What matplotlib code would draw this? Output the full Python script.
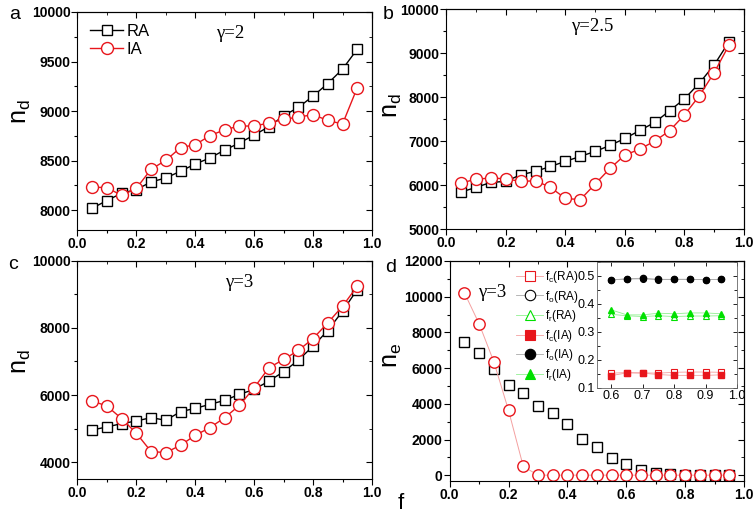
import numpy as np
import matplotlib
matplotlib.use('Agg')
import matplotlib.pyplot as plt
from matplotlib.ticker import MultipleLocator

plt.rcParams['font.family'] = ['Liberation Sans', 'DejaVu Sans']
plt.rcParams['font.weight'] = 'bold'
plt.rcParams['mathtext.fontset'] = 'custom'
plt.rcParams['mathtext.rm'] = 'Liberation Sans'

# datos
f = [0.05, 0.10, 0.15, 0.20, 0.25, 0.30, 0.35, 0.40, 0.45, 0.50,
     0.55, 0.60, 0.65, 0.70, 0.75, 0.80, 0.85, 0.90, 0.95]

a_ra = [8020, 8097, 8171, 8208, 8285, 8325, 8393, 8466, 8527, 8607,
        8678, 8758, 8842, 8953, 9037, 9151, 9278, 9423, 9624]
a_ia = [8232, 8228, 8148, 8221, 8413, 8503, 8631, 8661, 8752, 8812,
        8849, 8849, 8879, 8916, 8940, 8963, 8906, 8869, 9235]

b_ra = [5841, 5947, 6061, 6083, 6235, 6311, 6424, 6538, 6652, 6765,
        6902, 7061, 7242, 7424, 7689, 7962, 8318, 8735, 9265]
b_ia = [6045, 6136, 6159, 6144, 6083, 6098, 5947, 5697, 5667, 6023,
        6379, 6682, 6818, 7000, 7235, 7598, 8030, 8560, 9189]

c_ra = [4960, 5050, 5149, 5228, 5327, 5248, 5505, 5604, 5723, 5842,
        6020, 6168, 6416, 6693, 7040, 7455, 7921, 8495, 9139]
c_ia = [5822, 5673, 5297, 4861, 4317, 4287, 4505, 4802, 5030, 5327,
        5693, 6218, 6812, 7059, 7327, 7683, 8149, 8644, 9238]

d_ra = [7463, 6828, 5933, 5075, 4627, 3881, 3470, 2854, 2052, 1586,
        989, 616, 280, 150, 56, 20, 20, 20, 20]
d_ia = [10224, 8489, 6362, 3638, 504, 10, 10, 10, 10, 10,
        10, 10, 10, 10, 10, 10, 10, 10, 10]

# inset
f_in = [0.60, 0.65, 0.70, 0.75, 0.80, 0.85, 0.90, 0.95]
fc_ra = [0.153, 0.155, 0.154, 0.153, 0.156, 0.157, 0.157, 0.156]
fo_ra = [0.486, 0.489, 0.490, 0.487, 0.488, 0.488, 0.487, 0.488]
fr_ra = [0.363, 0.358, 0.355, 0.358, 0.355, 0.357, 0.357, 0.358]
fc_ia = [0.144, 0.154, 0.153, 0.148, 0.145, 0.145, 0.145, 0.147]
fo_ia = [0.486, 0.490, 0.492, 0.488, 0.488, 0.488, 0.487, 0.488]
fr_ia = [0.379, 0.361, 0.361, 0.367, 0.365, 0.368, 0.368, 0.365]

RED = '#e8161c'
GREEN = '#00e000'

fig = plt.figure(figsize=(7.56, 5.16), dpi=100)

def estilo(ax, ylim, ymaj, ymin):
    ax.set_xlim(0, 1.0)
    ax.set_ylim(*ylim)
    ax.xaxis.set_major_locator(MultipleLocator(0.2))
    ax.xaxis.set_minor_locator(MultipleLocator(0.1))
    ax.yaxis.set_major_locator(MultipleLocator(ymaj))
    ax.yaxis.set_minor_locator(MultipleLocator(ymin))
    ax.tick_params(which='both', direction='out', width=0.8, labelsize=10)
    ax.tick_params(which='major', length=4, pad=1)
    ax.tick_params(which='minor', length=2.5)
    # ticks hacia dentro arriba y a la derecha
    top = ax.secondary_xaxis('top')
    top.xaxis.set_major_locator(MultipleLocator(0.2))
    top.xaxis.set_minor_locator(MultipleLocator(0.1))
    top.tick_params(which='both', direction='in', labeltop=False)
    top.tick_params(which='major', length=4)
    top.tick_params(which='minor', length=2.5)
    right = ax.secondary_yaxis('right')
    right.yaxis.set_major_locator(MultipleLocator(ymaj))
    right.yaxis.set_minor_locator(MultipleLocator(ymin))
    right.tick_params(which='both', direction='in', labelright=False)
    right.tick_params(which='major', length=4)
    right.tick_params(which='minor', length=2.5)
    for s in ax.spines.values():
        s.set_linewidth(0.8)

def curvas(ax, ra, ia):
    ax.plot(f, ra, '-s', color='black', lw=1.0, ms=7.5, mfc='white',
            mec='black', mew=1.0, label='RA')
    ax.plot(f, ia, '-o', color=RED, lw=1.0, ms=8.6, mfc='white',
            mec=RED, mew=1.0, label='IA')

def gamma(ax, x, y, t):
    ax.text(x, y, t, transform=ax.transAxes, fontsize=13.5, fontweight='normal',
            family='Liberation Serif', ha='center', va='center')

# panel a
ax_a = fig.add_axes([0.1025, 0.5543, 0.3895, 0.4225])
curvas(ax_a, a_ra, a_ia)
estilo(ax_a, (7800, 10000), 500, 250)
ax_a.legend(loc='upper left', bbox_to_anchor=(0.02, 0.975), frameon=False,
            prop={'size': 12, 'weight': 'normal'}, handlelength=2.0,
            handletextpad=0.2, labelspacing=0.15, borderaxespad=0)
gamma(ax_a, 0.52, 0.9, 'γ=2')

# panel b
ax_b = fig.add_axes([0.5903, 0.5562, 0.3938, 0.4258])
curvas(ax_b, b_ra, b_ia)
estilo(ax_b, (5000, 10000), 1000, 500)
gamma(ax_b, 0.49, 0.92, 'γ=2.5')

# panel c
ax_c = fig.add_axes([0.1025, 0.0717, 0.3895, 0.4231])
curvas(ax_c, c_ra, c_ia)
estilo(ax_c, (3500, 10000), 2000, 1000)
gamma(ax_c, 0.55, 0.9, 'γ=3')

# panel d
ax_d = fig.add_axes([0.5948, 0.0684, 0.3893, 0.4258])
ax_d.plot(f, d_ra, 's', color='black', ms=7.8, mfc='white', mec='black', mew=1.0)
ax_d.plot(f, d_ia, '-o', color='#f4a0a0', lw=0.7, ms=8.2, mfc='white',
          mec=RED, mew=1.0)
estilo(ax_d, (-300, 12000), 2000, 1000)
gamma(ax_d, 0.145, 0.855, 'γ=3')

# inset
ax_in = fig.add_axes([0.7897, 0.2481, 0.1852, 0.2442])
h1, = ax_in.plot(f_in, fc_ra, '-s', color='#f4a0a0', lw=0.6, ms=3.8, mfc='white', mec=RED, mew=0.8)
h2, = ax_in.plot(f_in, fo_ra, '-o', color='#aaaaaa', lw=0.6, ms=4.3, mfc='white', mec='black', mew=0.8)
h3, = ax_in.plot(f_in, fr_ra, '-^', color='#90f090', lw=0.6, ms=4.3, mfc='white', mec=GREEN, mew=0.8)
h4, = ax_in.plot(f_in, fc_ia, '-s', color='#f4a0a0', lw=0.6, ms=3.8, mfc=RED, mec=RED)
h5, = ax_in.plot(f_in, fo_ia, '-o', color='#aaaaaa', lw=0.6, ms=4.5, mfc='black', mec='black')
h6, = ax_in.plot(f_in, fr_ia, '-^', color='#90f090', lw=0.6, ms=4.8, mfc=GREEN, mec=GREEN)
ax_in.set_xlim(0.555, 1.0)
ax_in.set_ylim(0.1, 0.55)
ax_in.xaxis.set_major_locator(MultipleLocator(0.1))
ax_in.yaxis.set_major_locator(MultipleLocator(0.1))
ax_in.yaxis.set_minor_locator(MultipleLocator(0.05))
ax_in.tick_params(which='both', direction='in', labelsize=9, pad=1.5,
                  right=True, top=True, width=0.6)
ax_in.tick_params(which='major', length=3)
ax_in.tick_params(which='minor', length=2)
for s in ax_in.spines.values():
    s.set_linewidth(0.6)
    s.set_color('#666666')

big_h = [plt.Line2D([], [], color=h.get_color(), lw=0.6, marker=h.get_marker(),
                    ms=7.5, mfc=h.get_mfc(), mec=h.get_mec(), mew=0.8)
         for h in (h1, h2, h3, h4, h5, h6)]
labels = [r'$\mathregular{f_c}$(RA)', r'$\mathregular{f_o}$(RA)', r'$\mathregular{f_r}$(RA)',
          r'$\mathregular{f_c}$(IA)', r'$\mathregular{f_o}$(IA)', r'$\mathregular{f_r}$(IA)']
ax_d.legend(big_h, labels, loc='upper left', bbox_to_anchor=(0.21, 0.985),
            frameon=False, prop={'size': 8.5, 'weight': 'normal'},
            handlelength=2.3, handletextpad=0.15, labelspacing=0.3,
            borderaxespad=0)

# etiquetas de panel y ejes
for x, y, t in [(0.02, 0.972, 'a'), (0.513, 0.972, 'b'),
                (0.017, 0.487, 'c'), (0.517, 0.482, 'd')]:
    fig.text(x, y, t, fontsize=14, fontweight='normal', ha='center', va='center')

kw = dict(fontsize=18, fontweight='normal', rotation=90, ha='center', va='center')
fig.text(0.028, 0.783, r'$\mathregular{n_d}$', **kw)
fig.text(0.519, 0.795, r'$\mathregular{n_d}$', **kw)
fig.text(0.028, 0.300, r'$\mathregular{n_d}$', **kw)
fig.text(0.519, 0.312, r'$\mathregular{n_e}$', **kw)
fig.text(0.530, 0.025, 'f', fontsize=16, fontweight='normal', ha='center', va='center')

# el recuadro usa etiquetas sin negrita
fig.canvas.draw()
for lab in ax_in.get_xticklabels() + ax_in.get_yticklabels():
    lab.set_fontweight('normal')

fig.savefig('out.png', dpi=100)
